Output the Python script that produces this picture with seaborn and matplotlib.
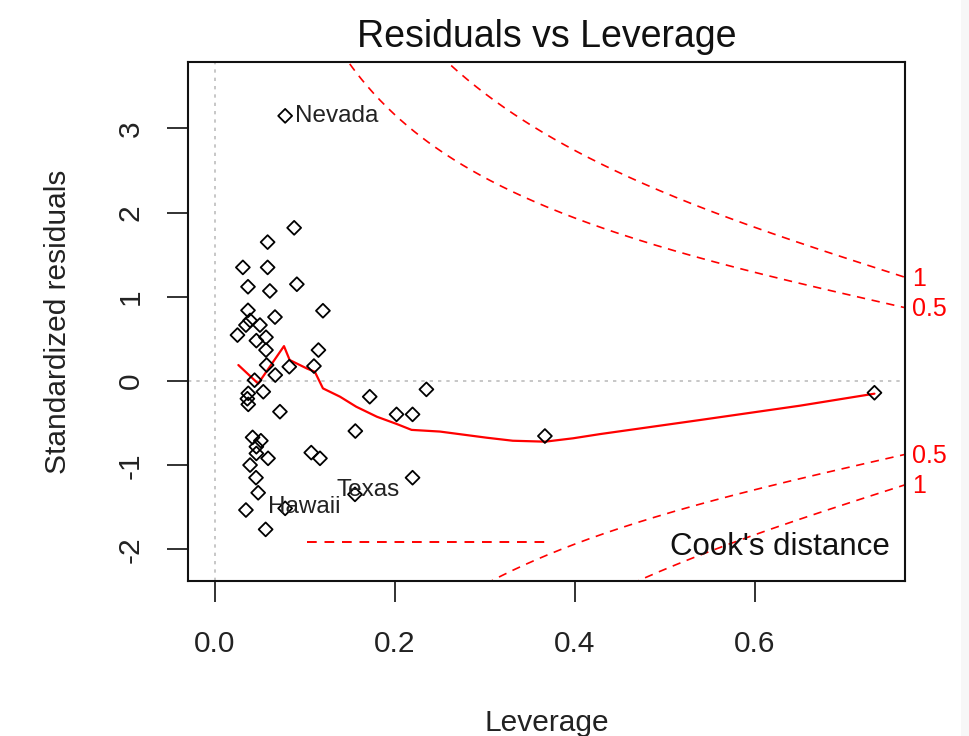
import numpy as np
import pandas as pd
import matplotlib
matplotlib.use("Agg")
import matplotlib.pyplot as plt
import seaborn as sns

# Leverage and standardized residuals per state
leverage = [0.078, 0.088, 0.0585, 0.031, 0.0585, 0.0367, 0.061, 0.091, 0.120, 0.0367,
            0.0667, 0.039, 0.0344, 0.050, 0.025, 0.0567, 0.046, 0.115, 0.0567, 0.0574,
            0.0826, 0.110, 0.067, 0.044, 0.037, 0.0537, 0.036, 0.037, 0.0722, 0.172,
            0.235, 0.2018, 0.2196, 0.156, 0.0418, 0.051, 0.046, 0.046, 0.059, 0.107,
            0.1167, 0.039, 0.0456, 0.2196, 0.048, 0.1556, 0.078, 0.0344, 0.0563, 0.3667,
            0.733]
std_resid = [3.15, 1.82, 1.65, 1.35, 1.35, 1.12, 1.07, 1.15, 0.835, 0.84,
             0.76, 0.72, 0.665, 0.665, 0.546, 0.52, 0.48, 0.368, 0.368, 0.19,
             0.17, 0.178, 0.071, 0.01, -0.146, -0.127, -0.21, -0.277, -0.364, -0.186,
             -0.099, -0.396, -0.396, -0.594, -0.669, -0.709, -0.78, -0.86, -0.918, -0.85,
             -0.918, -0.998, -1.148, -1.148, -1.327, -1.346, -1.512, -1.532, -1.762, -0.653,
             -0.139]
state = [""] * len(leverage)
state[0] = "Nevada"
state[45] = "Texas"
state[46] = "Hawaii"

# Smoothed trend of the residuals
smooth_lev = [0.026, 0.048, 0.0767, 0.083, 0.102, 0.111, 0.120, 0.139, 0.157, 0.180,
              0.202, 0.2185, 0.250, 0.302, 0.331, 0.367, 0.398, 0.428, 0.539, 0.650,
              0.733]
smooth_res = [0.19, -0.03, 0.415, 0.25, 0.15, 0.11, -0.087, -0.186, -0.305, -0.424,
              -0.51, -0.58, -0.60, -0.673, -0.709, -0.72, -0.68, -0.63, -0.463, -0.293,
              -0.15]

# Cook's distance contour levels and number of model parameters
cook_levels = [0.5, 1.0]
n_params = 5

points = pd.DataFrame({"leverage": leverage, "resid": std_resid, "state": state})
smooth = pd.DataFrame({"leverage": smooth_lev, "resid": smooth_res})

sns.set_theme(style="white")
plt.rcParams["font.family"] = ["Liberation Sans", "DejaVu Sans"]

fig = plt.figure(figsize=(9.69, 7.36), dpi=100)
# faint strip along the right edge of the canvas
fig.patches.append(plt.Rectangle((0.992, 0), 0.008, 1, transform=fig.transFigure,
                                 facecolor="#f7f7f7", edgecolor="none", zorder=0))
ax = fig.add_axes([0.194, 0.2106, 0.740, 0.7052])

xlim = (-0.03, 0.767)
ylim = (-2.375, 3.79)
ax.set_xlim(*xlim)
ax.set_ylim(*ylim)

# reference lines through zero
ax.axhline(0, color="#bdbdbd", lw=1.2, ls=(0, (2, 3)), zorder=1)
ax.axvline(0, color="#bdbdbd", lw=1.2, ls=(0, (2, 3)), zorder=1)

# Cook's distance contours
hh = np.linspace(0.005, xlim[1], 300)
for c in cook_levels:
    r = np.sqrt(c * n_params * (1 - hh) / hh)
    ax.plot(hh, r, color="red", lw=1.2, ls=(0, (5, 4)), zorder=2)
    ax.plot(hh, -r, color="red", lw=1.2, ls=(0, (5, 4)), zorder=2)
    edge = np.sqrt(c * n_params * (1 - xlim[1]) / xlim[1])
    lab = "1" if c == 1.0 else "0.5"
    for sgn in (1, -1):
        ax.annotate(lab, xy=(xlim[1], sgn * edge), xycoords="data",
                    xytext=(5, -1), textcoords="offset points",
                    color="red", fontsize=18, va="center", ha="left",
                    annotation_clip=False)

sns.lineplot(data=smooth, x="leverage", y="resid", sort=False, color="red",
             lw=1.6, ax=ax, zorder=3)
sns.scatterplot(data=points, x="leverage", y="resid", marker="D", s=50,
                facecolor="none", edgecolor="black", linewidth=1.3, ax=ax, zorder=4)

# state labels; offsets in points from each marker
label_offsets = {"Nevada": (7, 0), "Texas": (-13, 3), "Hawaii": (-12, 1)}
for _, row in points[points["state"] != ""].iterrows():
    ax.annotate(row["state"], xy=(row["leverage"], row["resid"]),
                xytext=label_offsets[row["state"]], textcoords="offset points",
                fontsize=17.5, va="center", ha="left", color="#222222", zorder=5)

# legend for the contours
ax.plot([0.166, 0.508], [0.075, 0.075], transform=ax.transAxes,
        color="red", lw=1.4, ls=(0, (5, 4)))
ax.text(0.979, 0.065, "Cook's distance", transform=ax.transAxes,
        ha="right", va="center", fontsize=22.5, color="#111111")

ax.set_xticks([0.0, 0.2, 0.4, 0.6])
ax.set_xticklabels(["0.0", "0.2", "0.4", "0.6"])
ax.set_yticks([-2, -1, 0, 1, 2, 3])
ax.set_yticklabels(["-2", "-1", "0", "1", "2", "3"], rotation=90, va="center")
ax.tick_params(axis="y", which="major", direction="out", length=15, width=1.3,
               color="#222222", labelsize=21.5, labelcolor="#222222", pad=16,
               left=True)
ax.tick_params(axis="x", which="major", direction="out", length=15, width=1.3,
               color="#222222", labelsize=21.5, labelcolor="#222222", pad=20,
               bottom=True)

for sp in ax.spines.values():
    sp.set_color("#111111")
    sp.set_linewidth(1.5)

ax.set_xlabel("Leverage", fontsize=21.5, labelpad=37, color="#222222")
ax.set_ylabel("Standardized residuals", fontsize=21.5, labelpad=32, color="#222222")
ax.set_title("Residuals vs Leverage", fontsize=27, pad=11, color="#111111")

fig.savefig("out.png", dpi=100)
